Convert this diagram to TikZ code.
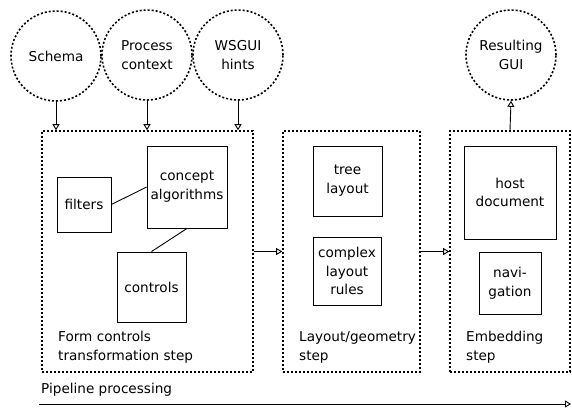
\documentclass[tikz,border=0pt]{standalone}
\usepackage{fontspec}
\setmainfont{DejaVu Sans}
\usetikzlibrary{arrows.meta}

\begin{document}
\begin{tikzpicture}[x=1pt,y=-1pt,every node/.style={font=\fontsize{13.6}{18.8}\selectfont}]
			\tikzstyle{source} = [circle,draw=black,line width=1.6pt,dash pattern=on 2pt off 2pt,align=center,minimum size=90pt,inner sep=0pt]
			\tikzstyle{stage} = [rectangle,draw=black,line width=1.6pt,dash pattern=on 2pt off 2pt,inner sep=0pt]
			\tikzstyle{partbox} = [rectangle,draw=black,line width=0.9pt,align=center,inner sep=0pt]
			\tikzstyle{caption} = [align=left,anchor=west,inner sep=0pt]
			\tikzstyle{link} = [-,line width=0.9pt]
			\tikzstyle{flow} = [-{Triangle[open,length=6pt,width=7pt]},line width=0.9pt]
			\useasboundingbox (0,0) rectangle (572,407);
			% inputs and result
			\node[source] (schema) at (56,56) {Schema};
			\node[source] (context) at (147,55) {Process\\context};
			\node[source] (hints) at (238,55) {WSGUI\\hints};
			\node[source] (gui) at (511,55) {Resulting\\GUI};
			% pipeline steps
			\node[stage,minimum width=211pt,minimum height=241pt] (form) at (147.5,251.5) {};
			\node[stage,minimum width=137pt,minimum height=241pt] (layout) at (351.5,251.5) {};
			\node[stage,minimum width=120pt,minimum height=241pt] (embed) at (510,251.5) {};
			\node[caption] (formlbl) at (58,347.5) {Form controls\\transformation step};
			\node[caption] (layoutlbl) at (299,347.5) {Layout/geometry\\step};
			\node[caption] (embedlbl) at (466,347.5) {Embedding\\step};
			% parts of each step
			\node[partbox,minimum width=54pt,minimum height=55pt] (filters) at (84,204.5) {filters};
			\node[partbox,minimum width=80pt,minimum height=82pt] (concept) at (187,187) {concept\\algorithms};
			\node[partbox,minimum width=69pt,minimum height=70pt] (controls) at (151.5,287) {controls};
			\node[partbox,minimum width=69pt,minimum height=70pt] (tree) at (347.5,181) {tree\\layout};
			\node[partbox,minimum width=68pt,minimum height=68pt] (rules) at (347,271) {complex\\layout\\rules};
			\node[partbox,minimum width=92pt,minimum height=93pt] (host) at (510,192.5) {host\\document};
			\node[partbox,minimum width=62pt,minimum height=62pt] (navi) at (510,283) {navi-\\gation};
			\draw[link] (filters.east)--(concept.west);
			\draw[link] (concept.south)--(controls.north);
			% data flow
			\draw[flow] (schema.south)--(schema.south |- form.north);
			\draw[flow] (context.south)--(context.south |- form.north);
			\draw[flow] (hints.south)--(hints.south |- form.north);
			\draw[flow] (form.east)--(layout.west);
			\draw[flow] (layout.east)--(embed.west);
			\draw[flow] (embed.north)--(gui.south);
			% pipeline direction
			\node[caption] (pipelbl) at (41,390) {Pipeline processing};
			\coordinate (pstart) at (39,404);
			\coordinate (pend) at (571,404);
			\draw[flow] (pstart)--(pend);
\end{tikzpicture}
\end{document}
